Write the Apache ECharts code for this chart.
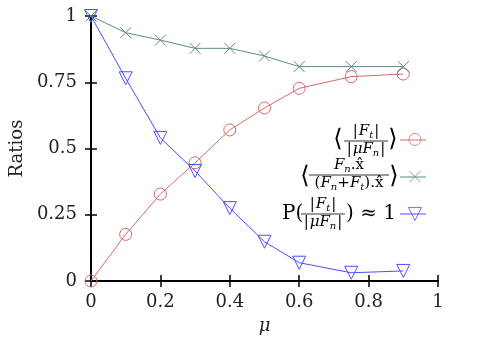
<!DOCTYPE html>
<html><head><meta charset="utf-8">
<script src="https://cdn.jsdelivr.net/npm/echarts@6/dist/echarts.min.js"></script>
<style>html,body{margin:0;padding:0;background:#fff}#c{width:479px;height:349px}</style>
</head><body><div id="c"></div>
<script>
const mu = [0, 0.1, 0.2, 0.3, 0.4, 0.5, 0.6, 0.75, 0.9];
const ratioFt = [0, 0.176, 0.328, 0.446, 0.57, 0.653, 0.727, 0.771, 0.781];
const ratioFn = [1, 0.937, 0.909, 0.878, 0.878, 0.849, 0.809, 0.809, 0.809];
const probFt = [1, 0.765, 0.54, 0.415, 0.275, 0.148, 0.069, 0.031, 0.038];
const xTicks = [0, 0.2, 0.4, 0.6, 0.8, 1];
const yTicks = [0, 0.25, 0.5, 0.75, 1];

const cRed = '#d26a6a', cGreen = '#5f8a80', cBlue = '#4d4dff';
const serif = '"DejaVu Serif", "Liberation Serif", serif';
const fmt = v => String(v);

const chart = echarts.init(document.getElementById('c'), null, {renderer: 'canvas'});
const pair = (xs, ys) => xs.map((x, i) => [x, ys[i]]);

const rich = {
  i: {fontFamily: serif, fontStyle: 'italic', fontSize: 15, lineHeight: 16, color: '#000', verticalAlign: 'top'},
  r: {fontFamily: serif, fontSize: 15, lineHeight: 16, color: '#000', verticalAlign: 'top'},
  b: {fontFamily: serif, fontSize: 15, lineHeight: 16, color: '#000', verticalAlign: 'top', padding: [0, 1, 0, 1]},
  s: {fontFamily: serif, fontStyle: 'italic', fontSize: 10, lineHeight: 10, color: '#000', verticalAlign: 'bottom'}
};
function frac(cx, cy, num, den, w) {
  return [
    {type: 'text', x: cx, y: cy - 1, style: {text: num, rich, align: 'center', verticalAlign: 'bottom'}},
    {type: 'line', shape: {x1: cx - w / 2, y1: cy, x2: cx + w / 2, y2: cy}, style: {stroke: '#000', lineWidth: 0.8}},
    {type: 'text', x: cx, y: cy + 1, style: {text: den, rich, align: 'center', verticalAlign: 'top'}}
  ];
}
function big(x, y, t, size) {
  return {type: 'text', x, y, style: {text: t, fontFamily: serif, fontSize: size || 24, fill: '#000', align: 'center', verticalAlign: 'middle'}};
}
function sample(y, color) {
  return [{type: 'line', shape: {x1: 400, y1: y, x2: 426, y2: y}, style: {stroke: color, lineWidth: 1}}];
}

const legendG = [].concat(
  [big(338, 140, '⟨')], frac(366, 141, '{b||}{i|F}{s|t}{b||}', '{b||}{i|μF}{s|n}{b||}', 44), [big(393, 140, '⟩')],
  [big(305, 177, '⟨')], frac(349, 175, '{i|F}{s|n}{r|.x̂}', '{r|(}{i|F}{s|n}{r|+}{i|F}{s|t}{r|).x̂}', 80), [big(394, 177, '⟩')],
  [{type: 'text', x: 282, y: 214, style: {text: 'P(', fontFamily: serif, fontSize: 20, fill: '#000', align: 'left', verticalAlign: 'middle'}}],
  frac(323, 214, '{b||}{i|F}{s|t}{b||}', '{b||}{i|μF}{s|n}{b||}', 44),
  [{type: 'text', x: 346, y: 214, style: {text: ') ≈ 1', fontFamily: serif, fontSize: 20, fill: '#000', align: 'left', verticalAlign: 'middle'}}],
  sample(140, cRed), sample(177, cGreen), sample(214, cBlue)
);

const ax = {
  type: 'value', min: 0, max: 1,
  axisLine: {show: true, lineStyle: {color: '#000', width: 2}},
  axisTick: {show: true, inside: true, length: 6, lineStyle: {color: '#000', width: 1.5}},
  splitLine: {show: false}
};
const lblStyle = {fontFamily: serif, fontSize: 18, color: '#222'};

const symX = 'path://M0,0L10,10M10,0L0,10';
const symTri = 'path://M0,0L10,0L5,8.5Z';

function ser(name, ys, color, symbol, size) {
  return {
    name, type: 'line', data: pair(mu, ys), symbol, symbolSize: size,
    lineStyle: {color, width: 1}, itemStyle: {color: 'rgba(0,0,0,0)', borderColor: color, borderWidth: 1},
    showAllSymbol: true, animation: false, z: 3
  };
}
function mark(y, color, symbol, size) {
  return {type: 'scatter', data: [[0.9337, y]], symbol, symbolSize: size, itemStyle: {color: 'rgba(0,0,0,0)', borderColor: color, borderWidth: 1}, silent: true, z: 4};
}

chart.setOption({
  animation: false,
  grid: {left: 90, right: 41, top: 16, bottom: 68, containLabel: false},
  xAxis: [
    Object.assign({}, ax, {position: 'bottom', interval: 0.2,
      axisLabel: Object.assign({margin: 12, formatter: fmt}, lblStyle),
      name: 'μ', nameLocation: 'middle', nameGap: 36,
      nameTextStyle: {fontFamily: serif, fontStyle: 'italic', fontSize: 18, color: '#222'}}),
    Object.assign({}, ax, {position: 'top', interval: 0.2, axisLabel: {show: false}})
  ],
  yAxis: [
    Object.assign({}, ax, {position: 'left', interval: 0.25,
      axisLabel: Object.assign({margin: 14, formatter: fmt}, lblStyle),
      name: 'Ratios', nameLocation: 'middle', nameGap: 64,
      nameTextStyle: {fontFamily: serif, fontSize: 18, color: '#222'}}),
    Object.assign({}, ax, {position: 'right', interval: 0.25, axisLabel: {show: false}})
  ],
  series: [
    ser('ratioFt', ratioFt, cRed, 'circle', 12),
    ser('ratioFn', ratioFn, cGreen, symX, 11),
    ser('probFt', probFt, cBlue, symTri, 13),
    mark(0.534, cRed, 'circle', 12),
    mark(0.394, cGreen, symX, 11),
    mark(0.253, cBlue, symTri, 13)
  ],
  graphic: legendG
});
</script></body></html>
